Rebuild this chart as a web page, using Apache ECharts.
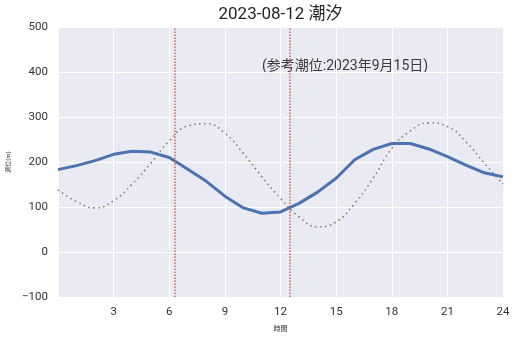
<!DOCTYPE html>
<html>
<head>
<meta charset="utf-8">
<script src="https://cdn.jsdelivr.net/npm/echarts@6/dist/echarts.min.js"></script>
<style>html,body{margin:0;padding:0;background:#fff}#c{width:517px;height:337px}</style>
</head>
<body>
<div id="c"></div>
<script>
const hours = [0,1,2,3,4,5,6,7,8,9,10,11,12,13,14,15,16,17,18,19,20,21,22,23,24];
const tideActual = [183,192,203,217,224,222,210,184,157,124,98,86,89,108,133,164,205,228,241,241,229,212,193,176,167];
const tideReference = [138,112,98,114,151,197,247,280,285,264,219,167,119,78,56,67,108,164,230,269,287,279,245,197,151];
const eventTimes = [6.31, 12.51];
const yTicks = [-100,0,100,200,300,400,500];
const xTicks = [0,3,6,9,12,15,18,21,24];
const titleText = '2023-08-12 潮汐';
const noteText = '(参考潮位:2023年9月15日)';
const font = 'Roboto, "Noto Sans CJK JP", sans-serif';

const chart = echarts.init(document.getElementById('c'));
chart.setOption({
  animation: false,
  grid: {left: 58, right: 14, top: 27, bottom: 40, show: true, backgroundColor: '#EAEAF2', borderWidth: 0, outerBoundsMode: 'none', containLabel: false},
  xAxis: {
    type: 'value', min: xTicks[0], max: xTicks[xTicks.length-1], interval: 3,
    name: '時間', nameLocation: 'middle', nameGap: 29,
    nameTextStyle: {fontFamily: font, fontSize: 7, color: '#333'},
    axisLine: {show: false}, axisTick: {show: false},
    axisLabel: {fontFamily: font, fontSize: 11.5, color: '#333', margin: 9,
      formatter: v => v === 0 ? '' : String(v)},
    splitLine: {show: true, lineStyle: {color: '#fff', width: 1}}
  },
  yAxis: {
    type: 'value', min: yTicks[0], max: yTicks[yTicks.length-1], interval: 100,
    name: '潮位(m)', nameLocation: 'middle', nameGap: 46, nameRotate: 90,
    nameTextStyle: {fontFamily: font, fontSize: 6, color: '#333'},
    axisLine: {show: false}, axisTick: {show: false},
    axisLabel: {fontFamily: font, fontSize: 11.5, color: '#333', margin: 10,
      formatter: v => v < 0 ? '\u2212' + Math.abs(v) : String(v)},
    splitLine: {show: true, lineStyle: {color: '#fff', width: 1}}
  },
  graphic: [
    {type: 'text', x: 280.5, y: 6,
     style: {text: titleText, font: '17px ' + font, fill: '#262626', textAlign: 'center', textVerticalAlign: 'top'}},
    {type: 'text', x: 262, y: 60,
     style: {text: noteText, font: '14px ' + font, fill: '#3a3a3a'}}
  ],
  series: [
    {
      type: 'line', data: hours.map((h,i)=>[h, tideReference[i]]),
      smooth: true, showSymbol: false, z: 2,
      lineStyle: {color: '#7f7f7f', width: 1.6, type: [1.5, 3.5]}
    },
    {
      type: 'line', data: hours.map((h,i)=>[h, tideActual[i]]),
      showSymbol: false, z: 3,
      lineStyle: {color: '#4C72B0', width: 3},
      markLine: {
        silent: true, symbol: 'none', label: {show: false},
        lineStyle: {color: '#D0646A', width: 1.5, type: [1.5, 1.5]},
        data: eventTimes.map(t => ({xAxis: t}))
      }
    }
  ]
});
</script>
</body>
</html>
